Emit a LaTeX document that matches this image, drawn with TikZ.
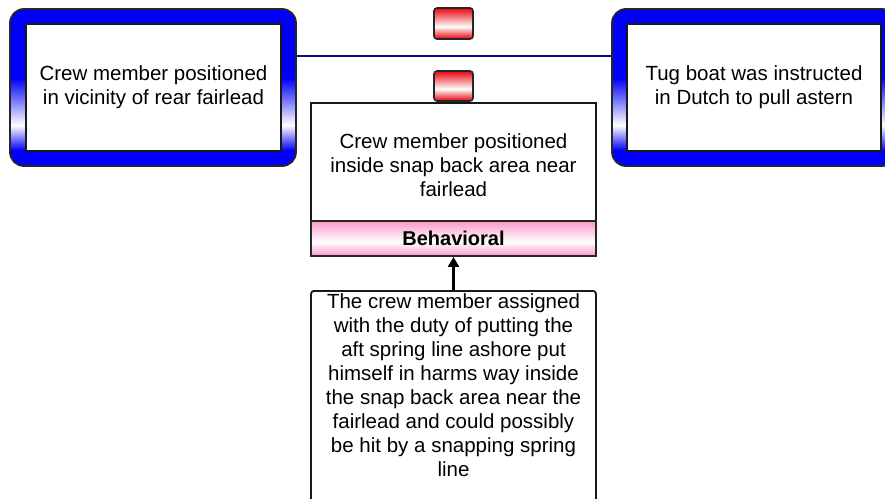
\documentclass[tikz,border=0pt]{standalone}
\usepackage{fontspec}
\setmainfont{Liberation Sans}
\usetikzlibrary{arrows.meta}

\definecolor{frameblue}{RGB}{0,0,250}
\definecolor{barnavy}{RGB}{10,10,140}
\definecolor{boxred}{RGB}{235,20,30}
\definecolor{bandpink}{RGB}{250,160,205}

% bottom-to-top colour runs; the path spans 25bp..75bp
\pgfdeclareverticalshading{bluefade}{100bp}{color(0bp)=(frameblue); color(30bp)=(frameblue); color(38bp)=(white); color(53bp)=(frameblue); color(100bp)=(frameblue)}
\pgfdeclareverticalshading{redfade}{100bp}{color(0bp)=(boxred); color(27bp)=(boxred); color(45bp)=(white); color(73bp)=(boxred); color(100bp)=(boxred)}
\pgfdeclareverticalshading{pinkfade}{100bp}{color(0bp)=(bandpink); color(27bp)=(bandpink); color(45bp)=(white); color(73bp)=(bandpink); color(100bp)=(bandpink)}

\tikzset{
  txt/.style={font=\fontsize{20.5}{24}\selectfont, align=center},
  frame/.style={draw=black!85, line width=1.8pt, rounded corners=14pt, shading=bluefade, inner sep=0pt},
  panel/.style={txt, draw=black!90, line width=1.8pt, fill=white, inner sep=2pt},
  barrier/.style={draw=black!85, line width=1.6pt, rounded corners=3pt, shading=redfade, minimum width=39pt, inner sep=0pt},
  band/.style={draw=black!85, line width=1.8pt, shading=pinkfade, inner sep=0pt, font=\bfseries\fontsize{20}{24}\selectfont},
  link/.style={draw=barnavy, line width=2.8pt},
  cause/.style={draw=black, line width=2.2pt, -{Triangle[length=10pt,width=11pt]}}
}

\begin{document}
\begin{tikzpicture}[x=1pt, y=-1pt]
  \useasboundingbox (0,0) rectangle (885,498);

  % left event
  \node[frame, minimum width=286pt, minimum height=157pt] (lf) at (153,87.5) {};
  \node[panel, minimum width=255pt, minimum height=127pt] (lb) at (153.5,87.5)
    {Crew member positioned\\in vicinity of rear fairlead};

  % right event
  \node[frame, minimum width=284pt, minimum height=157pt] (rf) at (754,87.5) {};
  \node[panel, minimum width=254pt, minimum height=127pt] (rb) at (754,87.5)
    {Tug boat was instructed\\in Dutch to pull astern};

  % link between events
  \coordinate (bar) at (453.5,56);
  \draw[link] (lf.east |- bar) -- (rf.west |- bar);

  % barriers
  \node[barrier, minimum height=31pt] (r1) at (453.5,23.5) {};
  \node[barrier, minimum height=30pt] (r2) at (453.5,86) {};

  % condition with its category band
  \node[panel, minimum width=285pt, minimum height=118pt] (mid) at (453.5,162)
    {\rule{0pt}{21pt}Crew member positioned\\inside snap back area near\\fairlead};
  \node[band, minimum width=285pt, minimum height=35pt] (beh) at (453.5,238.5) {Behavioral};

  % cause description
  \node[panel, rounded corners=3pt, minimum width=285pt, anchor=north, inner sep=3pt] (bot) at (453.5,290)
    {The crew member assigned\\with the duty of putting the\\aft spring line ashore put\\himself in harms way inside\\the snap back area near the\\fairlead and could possibly\\be hit by a snapping spring\\line\rule[-40pt]{0pt}{1pt}};

  \draw[cause] (bot.north) -- (beh.south);
\end{tikzpicture}
\end{document}
